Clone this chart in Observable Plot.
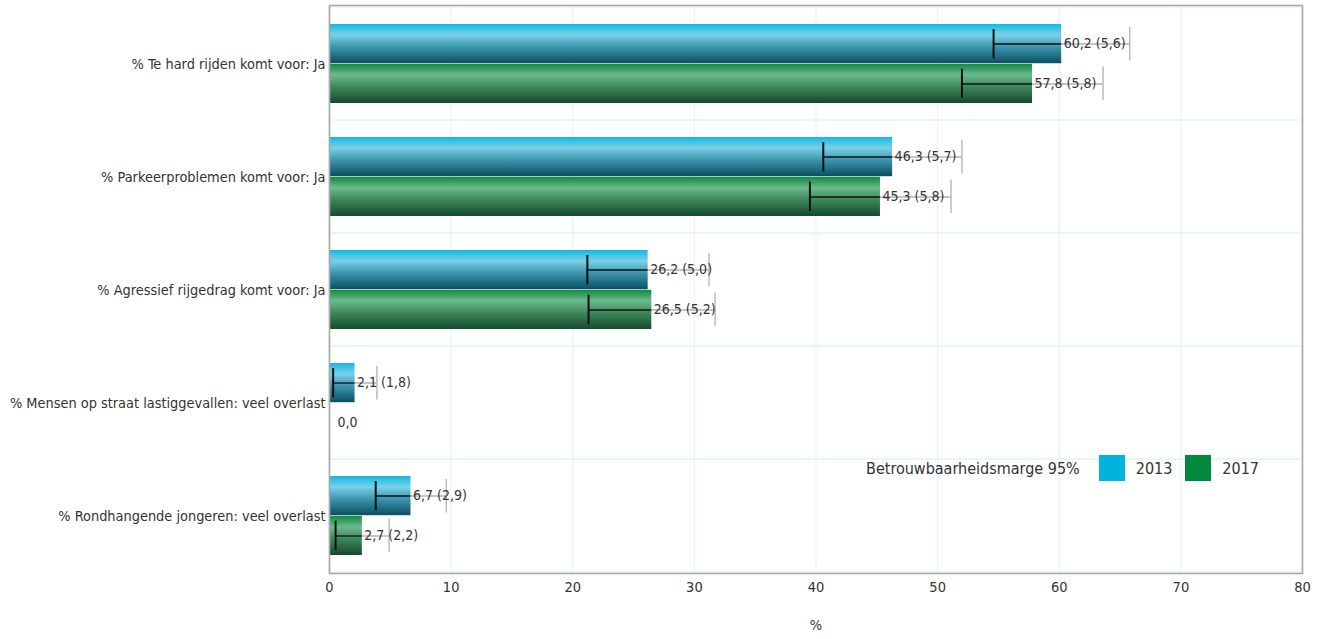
<!DOCTYPE html>
<html>
<head>
<meta charset="utf-8">
<script src="https://cdn.jsdelivr.net/npm/d3@7"></script>
<script src="https://cdn.jsdelivr.net/npm/@observablehq/plot@0.6"></script>
<style>
  html, body { margin: 0; padding: 0; background: #fff; }
  #wrap { position: relative; width: 1325px; height: 639px; font-family: "DejaVu Sans Condensed", sans-serif; color: #333; }
  #legend { position: absolute; left: 866px; top: 455px; display: flex; align-items: center; font-size: 16px; color: #333; white-space: nowrap; }
  #legend .sw { width: 26px; height: 26px; display: inline-block; margin: 0 11px 0 13px; }
  #legend .sw.first { margin-left: 19px; }
</style>
</head>
<body>
<div id="wrap"></div>
<script>
const categories = [
  "% Te hard rijden komt voor: Ja",
  "% Parkeerproblemen komt voor: Ja",
  "% Agressief rijgedrag komt voor: Ja",
  "% Mensen op straat lastiggevallen: veel overlast",
  "% Rondhangende jongeren: veel overlast"
];
const years = ["2013", "2017"];
const values2013 = [60.2, 46.3, 26.2, 2.1, 6.7];
const margins2013 = [5.6, 5.7, 5.0, 1.8, 2.9];
const values2017 = [57.8, 45.3, 26.5, 0.0, 2.7];
const margins2017 = [5.8, 5.8, 5.2, null, 2.2];
const xTicks = [0, 10, 20, 30, 40, 50, 60, 70, 80];
const legendTitle = "Betrouwbaarheidsmarge 95%";
const swatchColors = ["#00b4dc", "#00883e"];

const fmt = v => v.toFixed(1).replace(".", ",");
const rows = [];
categories.forEach((c, i) => {
  rows.push({cat: c, year: "2013", v: values2013[i], m: margins2013[i]});
  rows.push({cat: c, year: "2017", v: values2017[i], m: margins2017[i]});
});
const r13 = rows.filter(d => d.year === "2013");
const r17 = rows.filter(d => d.year === "2017");
const withM = d => d.m != null;
const noM = d => d.m == null;
const label = d => d.m != null ? `${fmt(d.v)} (${fmt(d.m)})` : fmt(d.v);

const W = 1325, H = 639, mT = 5, mB = 66, mL = 329, mR = 23;
const bw = (H - mT - mB) / categories.length;
const half = bw / 2;
const FONT = '"DejaVu Sans Condensed", sans-serif';
const FS = 14;

const chart = Plot.plot({
  width: W, height: H,
  marginTop: mT, marginBottom: mB, marginLeft: mL, marginRight: mR,
  style: {fontFamily: FONT, fontSize: FS + "px", color: "#333", background: "#fff"},
  x: {domain: [0, 80], label: "%", labelArrow: "none"},
  y: {domain: categories, padding: 0, axis: null},
  marks: [
    Plot.ruleX(xTicks.slice(1, -1), {stroke: "#e2f5fb", strokeWidth: 1.2}),
    Plot.barX(categories, {y: d => d, x1: 0, x2: 80, fill: "none", stroke: "#e2f5fb", strokeWidth: 1.2}),
    Plot.barX(r13, {y: "cat", x1: 0, x2: "v", insetTop: 17, insetBottom: half, fill: "url(#g2013)"}),
    Plot.barX(r17, {y: "cat", x1: 0, x2: "v", insetTop: half, insetBottom: 17, fill: "url(#g2017)"}),
    // error bars 2013
    Plot.ruleY(r13.filter(withM), {y: "cat", x1: d => d.v - d.m, x2: "v", dy: -20, stroke: "#111", strokeWidth: 1.3}),
    Plot.ruleY(r13.filter(withM), {y: "cat", x1: "v", x2: d => d.v + d.m, dy: -20, stroke: "#8a8a8a", strokeWidth: 1}),
    Plot.tickX(r13.filter(withM), {y: "cat", x: d => d.v - d.m, insetTop: 22, insetBottom: bw - 52, stroke: "#111", strokeWidth: 2}),
    Plot.tickX(r13.filter(withM), {y: "cat", x: d => d.v + d.m, insetTop: 20, insetBottom: bw - 54, stroke: "#aaa", strokeWidth: 1.2}),
    // error bars 2017
    Plot.ruleY(r17.filter(withM), {y: "cat", x1: d => d.v - d.m, x2: "v", dy: 20, stroke: "#111", strokeWidth: 1.3}),
    Plot.ruleY(r17.filter(withM), {y: "cat", x1: "v", x2: d => d.v + d.m, dy: 20, stroke: "#8a8a8a", strokeWidth: 1}),
    Plot.tickX(r17.filter(withM), {y: "cat", x: d => d.v - d.m, insetTop: bw - 52, insetBottom: 22, stroke: "#111", strokeWidth: 2}),
    Plot.tickX(r17.filter(withM), {y: "cat", x: d => d.v + d.m, insetTop: bw - 54, insetBottom: 20, stroke: "#aaa", strokeWidth: 1.2}),
    // labels
    Plot.text(r13, {y: "cat", x: "v", text: label, dy: -20, dx: 2, textAnchor: "start", fill: "#333", fontSize: FS}),
    Plot.text(r17.filter(withM), {y: "cat", x: "v", text: label, dy: 20, dx: 2, textAnchor: "start", fill: "#333", fontSize: FS}),
    Plot.text(r17.filter(noM), {y: "cat", x: "v", text: label, dy: 20, dx: 8, textAnchor: "start", fill: "#333", fontSize: FS}),
    Plot.axisY({tickSize: 0, tickPadding: 4, fontSize: 14.4, label: null}),
    Plot.axisX({ticks: xTicks, tickSize: 0, tickPadding: 8, tickFormat: d => String(d), fontSize: 14.5, label: "%", labelAnchor: "center", labelArrow: "none", labelOffset: 56}),
    Plot.frame({stroke: "#a8a8a8", strokeWidth: 1.6})
  ]
});

// gradients
const svg = d3.select(chart);
const defs = svg.insert("defs", ":first-child");
function grad(id, stops) {
  const g = defs.append("linearGradient").attr("id", id).attr("x1", 0).attr("y1", 0).attr("x2", 0).attr("y2", 1);
  stops.forEach(([o, c]) => g.append("stop").attr("offset", o).attr("stop-color", c));
}
grad("g2013", [[0, "#12b6e0"], [0.08, "#2fc0e4"], [0.28, "#7ad0e8"], [0.6, "#3a93ab"], [1, "#0a4f62"]]);
grad("g2017", [[0, "#0e8a3e"], [0.08, "#2a9656"], [0.28, "#6cb98c"], [0.6, "#3c8659"], [1, "#15492b"]]);

const wrap = document.getElementById("wrap");
wrap.appendChild(chart);
const lg = document.createElement("div");
lg.id = "legend";
let html = `<span>${legendTitle}</span>`;
years.forEach((y, i) => { html += `<span class="sw${i === 0 ? " first" : ""}" style="background:${swatchColors[i]}"></span><span class="lab">${y}</span>`; });
lg.innerHTML = html;
wrap.appendChild(lg);
</script>
</body>
</html>
